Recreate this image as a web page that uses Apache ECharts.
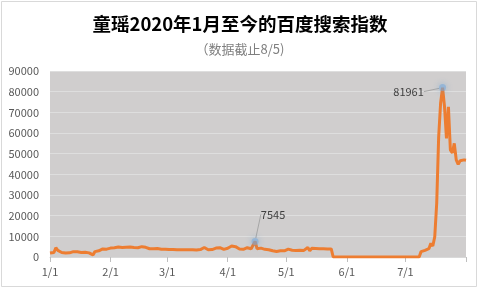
<!DOCTYPE html>
<html><head><meta charset="utf-8">
<script src="https://cdn.jsdelivr.net/npm/echarts@6/dist/echarts.min.js"></script>
<style>html,body{margin:0;padding:0;background:#fff}#c{width:480px;height:289px}</style>
</head><body><div id="c"></div>
<script>
var titleText = '童瑶2020年1月至今的百度搜索指数';
var subtitleText = '（数据截止8/5)';
var monthLengths = [31, 29, 31, 30, 31, 30, 31, 1]; // Jan..Jul 2020, then 8/1
var monthLabels = ['1/1','2/1','3/1','4/1','5/1','6/1','7/1'];
var yTicks = [0,10000,20000,30000,40000,50000,60000,70000,80000,90000];

var janValues = [1900,1800,2200,4500,3200,2500,2200,2000,1900,1900,2000,2100,2600,2900,2500,2300,2200,2000,2300,2500,2000,1800,1000,2600,3400,3000,3500,3900,4000,3800,4200];
var febValues = [4300,4400,4500,4700,4800,4700,4600,4500,4700,4600,4800,4500,4600,4700,4500,4800,5000,5300,4700,4200,4000,3900,4000,4200,4100,3900,3800,3900,3800];
var marValues = [3700,3600,3600,3600,3500,3500,3400,3500,3600,3500,3700,3500,3800,3500,3600,3400,4000,3600,3900,4600,3800,3500,3400,3600,3900,4300,4700,4500,3900,3700,3800];
var aprValues = [4200,4800,5300,5600,5000,4300,3900,3600,3700,4200,4500,4300,4000,4400,7545,4000,4600,4300,4200,3700,3900,3500,3100,3000,2900,2700,2800,3000,2900,3000];
var mayValues = [3300,3800,3500,3300,3200,3100,3200,3300,3100,3200,3300,4600,3000,4200,3500,4100,4000,4000,4000,4000,4000,3900,4000,3900,0,0,0,0,0,0,0];
var junValues = [0,0,0,0,0,0,0,0,0,0,0,0,0,0,0,0,0,0,0,0,0,0,0,0,0,0,0,0,0,0];
var julValues = [0,0,0,0,0,0,0,0,2600,3400,3200,3500,4000,6600,5300,9800,26000,58000,74500,81961,72700,57400,72700,51800,50300,55000,47000,44800,46600,47000,47000];
var augValues = [46800];

var values = [].concat(janValues, febValues, marValues, aprValues, mayValues, junValues, julValues, augValues);
var annotated = [7545, 81961];

var dates = [];
var monthStartIdx = {};
for (var m = 0; m < monthLengths.length; m++) {
  monthStartIdx[dates.length] = true;
  for (var d = 1; d <= monthLengths[m]; d++) dates.push((m + 1) + '/' + d);
}

var seriesData = values.map(function (v, i) {
  if (annotated.indexOf(v) >= 0) {
    return {
      value: v,
      symbol: 'circle',
      symbolSize: 7,
      itemStyle: { color: 'rgba(120,170,220,0.55)', shadowBlur: 6, shadowColor: 'rgba(91,155,213,0.9)', borderWidth: 0 },
      label: { show: true, formatter: '{c}', color: '#404040', fontSize: 11, fontFamily: 'Noto Sans CJK SC' },
      labelLine: { show: true, lineStyle: { color: '#A6A6A6', width: 1 } }
    };
  }
  return v;
});

var chart = echarts.init(document.getElementById('c'), null, { renderer: 'canvas' });
chart.setOption({
  animation: false,
  backgroundColor: '#fff',
  title: [
    { text: titleText, left: 'center', top: 10, textStyle: { fontSize: 18.5, fontWeight: 'bold', color: '#000', fontFamily: 'Noto Sans CJK SC' } },
    { text: subtitleText, left: 'center', top: 38, textStyle: { fontSize: 13, fontWeight: 'normal', color: '#7F7F7F', fontFamily: 'Noto Sans CJK SC' } }
  ],
  graphic: [{ type: 'rect', shape: { x: 1.5, y: 1.5, width: 475, height: 285 }, style: { fill: 'none', stroke: '#D9D9D9', lineWidth: 1 }, z: 100 }],
  grid: { left: 50, right: 14, top: 71, bottom: 32, show: true, backgroundColor: '#D0CECE', borderWidth: 0 },
  xAxis: {
    type: 'category', data: dates, boundaryGap: false,
    axisLine: { lineStyle: { color: '#D9D9D9', width: 1 } },
    axisTick: { interval: function (i) { return !!monthStartIdx[i]; }, length: 5, lineStyle: { color: '#BFBFBF' } },
    axisLabel: {
      interval: function (i) { return !!monthStartIdx[i]; },
      formatter: function (v) { return monthLabels.indexOf(v) >= 0 ? v : ''; },
      color: '#595959', fontSize: 11, margin: 9, fontFamily: 'Noto Sans CJK SC'
    },
    splitLine: { show: false }
  },
  yAxis: {
    type: 'value', min: yTicks[0], max: yTicks[yTicks.length - 1], interval: yTicks[1] - yTicks[0],
    axisLine: { show: false }, axisTick: { show: false },
    axisLabel: { formatter: function (v) { return String(v); }, color: '#595959', fontSize: 11, margin: 11, fontFamily: 'Noto Sans CJK SC' },
    splitLine: { lineStyle: { color: '#DEDEDE', width: 1 } }
  },
  series: [{
    type: 'line', data: seriesData, symbol: 'none', showSymbol: true, showAllSymbol: true,
    lineStyle: { color: '#ED7D31', width: 3 }, itemStyle: { color: '#ED7D31' },
    labelLayout: function (p) {
      if (values[p.dataIndex] === annotated[0]) return { dx: 18, dy: -13 };
      if (values[p.dataIndex] === annotated[1]) return { dx: -34, dy: 18 };
      return {};
    }
  }]
});
</script></body></html>
